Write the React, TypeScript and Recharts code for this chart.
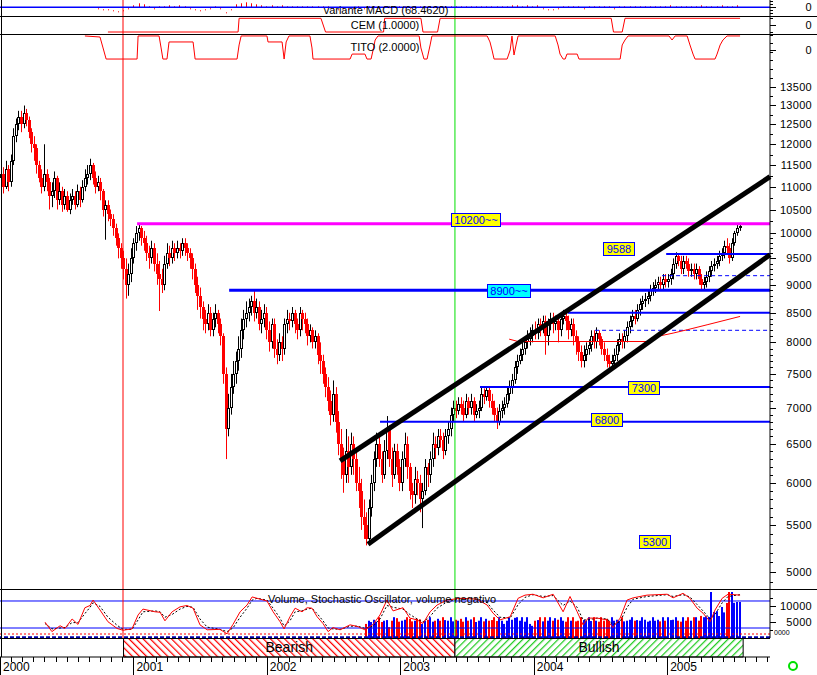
import { ComposedChart, LineChart, BarChart, Bar, Line, XAxis, YAxis, ReferenceLine, ReferenceDot, ReferenceArea } from 'recharts';

const FONT = '"Liberation Sans", Arial, sans-serif';
const X_MAX = 301.1; // weeks from 3 Jan 2000 to the right edge of the plot
const WEEKS_PER_MONTH = 4.348;

// weekly bars, Jan 2000 .. Jul 2005 (open = previous close)
const FIRST_OPEN = 11200;
const closes = [
  11300, 11000, 11400, 11100, 11600, 12200, 12500, 12700, 12500, 12800, 12600, 12300,
  12000, 11900, 11500, 11200, 11000, 11300, 11100, 10800, 10900, 11200, 10700, 10900,
  10600, 10800, 10500, 10700, 10800, 10600, 10900, 10700, 11000, 11200, 11300, 11500,
  11200, 11000, 11100, 10900, 10500, 10600, 10400, 10300, 10100, 9900, 9700, 9500,
  9300, 9000, 9200, 9500, 9800, 10000, 10100, 9900, 9800, 9600, 9500, 9700,
  9400, 9200, 9100, 9000, 9400, 9600, 9500, 9700, 9600, 9700, 9650, 9800,
  9700, 9600, 9500, 9300, 9000, 8800, 8600, 8400, 8300, 8500, 8200, 8400,
  8500, 8300, 8100, 7500, 6700, 7000, 7300, 7500, 7700, 7900, 8200, 8400,
  8500, 8600, 8700, 8500, 8600, 8300, 8400, 8500, 8200, 8000, 8300, 7900,
  7800, 8000, 7900, 8300, 8400, 8350, 8500, 8300, 8200, 8500, 8400, 8300,
  8100, 8200, 8000, 8100, 7800, 7700, 7500, 7300, 7100, 6900, 7200, 6800,
  6500, 6300, 6100, 6400, 6200, 6500, 6300, 6000, 5900, 5600, 5500, 5350,
  5700, 6000, 6300, 6500, 6300, 6100, 6400, 6700, 6300, 6100, 6400, 6200,
  6000, 6300, 6500, 6200, 5900, 5850, 6050, 6000, 5800, 5900, 6200, 6100,
  6300, 6500, 6450, 6600, 6550, 6400, 6600, 6700, 6900, 7000, 6950, 7050,
  7000, 6900, 7100, 7000, 7100, 6900, 6950, 7000, 7200, 7150, 7250, 7100,
  7000, 6900, 6800, 6950, 7000, 7050, 7200, 7300, 7400, 7600, 7700, 7800,
  7900, 8000, 8050, 8100, 8200, 8150, 8300, 8250, 8350, 8100, 8300, 8400,
  8300, 8350, 8200, 8400, 8450, 8350, 8200, 8300, 8100, 8000, 7850, 7700,
  7800, 7900, 7950, 8100, 8000, 8150, 8050, 7900, 7800, 7700, 7650, 7700,
  7800, 7950, 8050, 8000, 8100, 8250, 8350, 8450, 8400, 8550, 8650, 8700,
  8750, 8800, 8900, 8950, 9000, 9050, 9000, 9100, 9050, 9100, 9200, 9400,
  9550, 9450, 9300, 9450, 9400, 9250, 9300, 9200, 9300, 9100, 9000, 9050,
  9150, 9250, 9350, 9400, 9450, 9550, 9600, 9750, 9700, 9500, 9800, 10000,
  10100, 10150,
];
const highs = [
  11700, 11450, 11600, 11500, 11750, 12400, 12650, 12850, 12850, 12990, 12900, 12700,
  12400, 12200, 12000, 11600, 11400, 12000, 11400, 11200, 11100, 11350, 11250, 11100,
  11000, 10950, 10900, 10850, 10950, 10900, 11050, 11000, 11150, 11400, 11500, 11650,
  11550, 11350, 11250, 11200, 10950, 10700, 10700, 10500, 10400, 10200, 10000, 9800,
  9650, 9500, 9400, 9700, 9900, 10150, 10200, 10150, 10050, 9950, 9750, 9850,
  9800, 9600, 9450, 9300, 9550, 9800, 9750, 9850, 9800, 9850, 9800, 9900,
  9900, 9800, 9700, 9600, 9400, 9150, 8950, 8700, 8550, 8650, 8600, 8500,
  8650, 8550, 8400, 8150, 7600, 7200, 7500, 7700, 7850, 8100, 8400, 8550,
  8700, 8750, 8800, 8900, 8750, 8700, 8550, 8650, 8600, 8350, 8400, 8400,
  8050, 8150, 8100, 8400, 8550, 8500, 8600, 8550, 8400, 8600, 8550, 8500,
  8400, 8300, 8250, 8200, 8150, 8000, 7800, 7600, 7450, 7250, 7400, 7300,
  6950, 6700, 6450, 6700, 6600, 6650, 6600, 6400, 6200, 6050, 5800, 5650,
  5800, 6100, 6400, 6650, 6600, 6400, 6550, 6880, 6750, 6450, 6500, 6500,
  6300, 6400, 6650, 6600, 6250, 6000, 6200, 6150, 6100, 6000, 6300, 6250,
  6400, 6650, 6600, 6700, 6700, 6650, 6700, 6800, 7000, 7100, 7100, 7150,
  7150, 7100, 7200, 7150, 7200, 7150, 7050, 7100, 7300, 7280, 7300, 7300,
  7200, 7100, 7000, 7050, 7100, 7150, 7300, 7400, 7500, 7700, 7800, 7900,
  8000, 8100, 8200, 8250, 8300, 8350, 8400, 8400, 8450, 8450, 8400, 8500,
  8500, 8450, 8400, 8500, 8550, 8500, 8450, 8400, 8400, 8200, 8100, 7950,
  7950, 8000, 8050, 8200, 8200, 8250, 8200, 8100, 8000, 7900, 7800, 7800,
  7900, 8050, 8150, 8150, 8200, 8350, 8450, 8550, 8550, 8650, 8750, 8800,
  8850, 8900, 9000, 9050, 9100, 9150, 9150, 9200, 9200, 9200, 9300, 9500,
  9620, 9600, 9550, 9550, 9550, 9500, 9400, 9400, 9400, 9350, 9200, 9150,
  9250, 9350, 9450, 9500, 9550, 9650, 9700, 9850, 9900, 9800, 9900, 10050,
  10200, 10220,
];
const lows = [
  10900, 10850, 10950, 10900, 11000, 11500, 12050, 12350, 12300, 12400, 12450, 12150,
  11800, 11600, 11300, 11100, 10850, 10900, 10900, 10500, 10550, 10750, 10500, 10600,
  10450, 10500, 10450, 10400, 10600, 10500, 10550, 10550, 10650, 10900, 11050, 11150,
  11050, 10850, 10900, 10700, 10350, 9870, 10250, 10150, 9950, 9750, 9500, 9300,
  9100, 8750, 8800, 9050, 9400, 9650, 9850, 9750, 9650, 9450, 9300, 9400,
  9250, 9000, 8530, 8850, 8900, 9300, 9350, 9400, 9450, 9500, 9500, 9550,
  9550, 9450, 9300, 9100, 8850, 8550, 8400, 8200, 8150, 8200, 8100, 8100,
  8250, 8150, 7950, 7350, 6300, 6600, 6900, 7200, 7350, 7550, 7750, 8050,
  8250, 8350, 8450, 8350, 8400, 8200, 8150, 8250, 8050, 7850, 7900, 7750,
  7650, 7700, 7700, 7800, 8150, 8200, 8250, 8150, 8050, 8100, 8200, 8150,
  7950, 8000, 7900, 7900, 7650, 7500, 7350, 7150, 6950, 6750, 6800, 6650,
  6350, 6050, 5880, 6000, 6000, 6100, 6100, 5900, 5700, 5450, 5350, 5280,
  5300, 5600, 5900, 6200, 6200, 6000, 6050, 6300, 6200, 5950, 6050, 6100,
  5900, 5900, 6200, 6050, 5800, 5700, 5750, 5850, 5650, 5470, 5850, 5950,
  6000, 6200, 6300, 6350, 6450, 6300, 6350, 6500, 6600, 6800, 6850, 6900,
  6900, 6800, 6850, 6900, 6900, 6800, 6850, 6850, 6950, 7050, 7100, 7000,
  6900, 6800, 6700, 6750, 6850, 6900, 7000, 7100, 7200, 7350, 7500, 7650,
  7700, 7800, 7900, 7950, 8000, 8050, 8050, 8100, 8150, 7800, 7950, 8200,
  8150, 8200, 8000, 8100, 8300, 8200, 8050, 8100, 7950, 7800, 7700, 7600,
  7600, 7700, 7800, 7850, 7900, 7900, 7950, 7800, 7700, 7600, 7550, 7550,
  7600, 7700, 7850, 7900, 7900, 8000, 8150, 8250, 8300, 8350, 8450, 8550,
  8600, 8650, 8700, 8800, 8850, 8900, 8900, 8900, 8950, 8950, 9000, 9100,
  9300, 9350, 9200, 9200, 9300, 9150, 9150, 9100, 9100, 9000, 8900, 8920,
  8950, 9050, 9150, 9250, 9300, 9350, 9450, 9500, 9600, 9400, 9450, 9750,
  9950, 10050,
];

// weekly volume, from week 143 on
const VOL_FIRST = 143;
const volumes = [
  4400, 5400, 5000, 5700, 5100, 6500, 5000, 5400, 5600, 3400, 5400, 6500, 6200, 5100, 5400, 5700,
  6500, 6000, 5200, 5400, 6000, 5800, 4400, 5400, 5700, 6500, 5100, 5400, 6000, 5400, 6500, 5600,
  5400, 6500, 5200, 5700, 5400, 6000, 5100, 6500, 5400, 5800, 6500, 5000, 5400, 6500, 5200, 6000,
  5400, 5600, 6500, 5300, 6500, 5400, 4400, 5400, 6500, 5700, 6300, 6500, 5400, 6500, 5100, 6500,
  4400, 3800, 5400, 5600, 6500, 5200, 6500, 5400, 6500, 5400, 6200, 5700, 6500, 5400, 5100, 6500,
  5400, 6500, 5200, 5400, 6500, 5600, 5400, 6500, 5300, 6500, 5400, 5100, 6500, 5400, 6000, 5400,
  6500, 5400, 5700, 5400, 6500, 5200, 5400, 5700, 6500, 5400, 5600, 5400, 6500, 5700, 5100, 5400,
  6500, 5400, 5700, 5200, 6500, 5400, 6500, 5600, 5700, 6500, 5400, 5100, 6500, 5400, 6500, 5400,
  6500, 6500, 5400, 6900, 6500, 6800,
  6560, 14375, 8125, 8400, 6875, 9690, 8000, 10940, 14375, 14375, 11000, 11250, 11250,
];

// stochastic oscillator (%K solid red, %D dashed black)
const stochWeeks = [
  17.6, 20.3, 23.5, 25.4, 28.2, 30.5, 33.2, 35.2, 36.4, 39.1, 42.2, 45.8, 48.1, 51.6, 54.0, 55.9,
  60.6, 62.6, 64.5, 67.3, 70.4, 73.1, 75.5, 78.2, 81.0, 86.0, 88.8, 91.1, 93.9, 96.6, 98.6, 100.5,
  104.4, 106.8, 109.5, 111.1, 113.4, 115.4, 118.1, 120.1, 122.0, 124.0, 126.3, 128.3, 130.2, 133.0,
  136.9, 140.0, 142.7, 145.9, 148.6, 151.3, 153.7, 157.6, 160.3, 163.1, 165.4, 168.2, 170.9, 174.8,
  179.9, 186.5, 190.5, 192.8, 195.5, 199.5, 202.6, 205.3, 208.4, 212.4, 216.3, 220.2, 222.9, 225.7,
  228.0, 230.0, 233.5, 237.4, 239.7, 242.5, 245.2, 247.6, 253.0, 260.9, 263.2, 267.1, 269.8, 272.6,
  274.9, 277.7, 279.6, 282.4, 284.7, 289.4,
];
const stochK = [
  33, 12, 25, 19, 40, 28, 65, 70, 82, 60, 34, 19, 15, 18, 49, 62, 56, 55, 36, 56, 67, 70, 64, 27,
  16, 17, 7, 28, 56, 71, 89, 86, 80, 56, 34, 18, 45, 64, 56, 65, 64, 45, 30, 12, 21, 16, 27, 23,
  16, 28, 49, 82, 58, 65, 42, 38, 30, 56, 71, 82, 86, 84, 71, 53, 38, 45, 86, 93, 95, 87, 95, 56,
  90, 56, 27, 42, 42, 38, 21, 42, 82, 87, 93, 95, 87, 97, 86, 64, 53, 34, 60, 86, 95, 93,
];
const stochD = [
  30, 18, 20, 21, 32, 32, 52, 66, 76, 68, 44, 26, 17, 17, 38, 56, 58, 56, 44, 50, 62, 68, 66, 40,
  22, 17, 12, 20, 44, 64, 82, 86, 82, 64, 42, 24, 36, 56, 58, 62, 64, 52, 36, 20, 18, 17, 24, 24,
  19, 24, 40, 70, 66, 62, 50, 40, 33, 46, 64, 78, 85, 85, 76, 60, 44, 42, 72, 88, 94, 90, 92, 70,
  80, 66, 38, 38, 42, 40, 28, 34, 66, 84, 90, 94, 90, 94, 89, 72, 58, 40, 50, 76, 90, 94,
];

// MACD histogram, every second week from week 38
const MACD_FIRST = 38;
const macdHist = [
  -1, -2, -2, -3, -4, -3, -1, 2, 4, 3, 1, -1, 1, 1, 2, 1, 2, 1, -1, -2, -3,
  -2, -1, 1, -1, -5, -2, 3, 4, 5, 4, 3, 2, 1, 2, 1, 2, 1, 1, 1, 1,
  1, 1, 1, 1, 1, -1, -2, -1, -2, -1, 1, -1, 1, 1, -1, 1, 1, 1, 1,
  1, -1, 1, 1, 1, 1, 1, 1, 1, 1, 1, 1, 1, 1, 1, 1, 1, 1, 1, 1,
  1, 2, 2, 1, 2, 1, 2, -1, -2, -2, -1, 1, 1, 1, 1, -1, 1, 1, 1, 1,
  1, -1, 1, 1, 1, 1, 1, 1, 1, 1, 1, 1, 2, 1, 1, 1, 1, 1, 2, 1,
  1, 1, 2, 1, 1, 2,
];

// CEM and TITO step indicators
const cemWeeks = [42.2, 93.1, 93.5, 125.5, 127.3, 150.0, 150.4, 164.6, 165.4, 171.1, 172.1, 239.0, 239.9, 243.3, 244.4, 289.4];
const cemValues = [0, 0, 1, 1, 0, 0, 1, 1, 0, 0, 1, 1, 0, 0, 1, 1];
const titoWeeks = [
  33.2, 39.1, 40.3, 41.5, 53.6, 54.0, 62.2, 63.0, 63.7, 65.3, 66.1, 75.5, 76.3, 92.7, 93.5, 94.3,
  104.4, 104.8, 110.3, 111.1, 111.9, 113.0, 121.2, 122.0, 122.4, 136.9, 137.7, 142.7, 143.5, 145.1,
  145.9, 146.7, 147.8, 163.9, 164.6, 165.8, 167.0, 168.2, 168.9, 190.5, 191.6, 192.4, 193.2, 198.3,
  199.5, 200.2, 201.0, 201.8, 202.6, 217.1, 218.2, 219.0, 220.2, 221.0, 221.7, 225.7, 226.4, 242.5,
  243.3, 244.4, 245.6, 261.6, 262.8, 264.0, 268.7, 269.8, 271.0, 271.8, 279.6, 280.4, 281.6, 282.7,
  284.3, 289.4,
];
const titoValues = [
  2, 1.91, 0.96, 0, 0, 2, 2, 0.96, 0, 0, 1.48, 1.48, 0, 0, 1.22, 2,
  2, 1.48, 1.48, 0, 1.48, 2, 2, 0.96, 0, 0, 0.43, 0.43, 0, 0,
  0.78, 1.65, 2, 2, 0.96, 0, 0, 1.22, 2, 2, 1.48, 0.78, 0, 0,
  0.78, 2, 0.35, 1.22, 2, 2, 1.22, 0.43, 0, 0, 0.43, 0.43, 0, 0,
  1.22, 1.65, 2, 2, 1.65, 2, 2, 1.22, 0.43, 0, 0, 0.43, 1.22, 1.65,
  2, 2,
];

// moving average on the price panel
const maWeeks = [199.1, 202.6, 253.0, 256.9, 263.2, 268.7, 276.5, 289.4];
const maValues = [8053, 8014, 8014, 8096, 8153, 8209, 8293, 8436];

// support / resistance levels
const levelPrices = [10200, 8900, 9588, 9170, 8500, 8200, 7300, 6800];
const levelStarts = [53.6, 89.6, 260.5, 258.9, 222.1, 232.7, 187.7, 148.6];
const levelColors = ['#ff00ff', '#0000ff', '#0000ff', '#0000ff', '#0000ff', '#0000ff', '#0000ff', '#0000ff'];
const levelWidths = [3, 3, 2, 1, 2, 1, 2, 2];
const levelDashes = ['', '', '', '4 3', '', '4 3', '', ''];

const labelTexts = ['10200~~', '8900~~', '9588', '7300', '6800', '5300'];
const labelWeeks = [185.8, 198.9, 241.7, 251.7, 237.2, 256.0];
const labelPrices = [10285, 8900, 9700, 7300, 6830, 5327];
const labelFills = ['#ffff00', '#00ffff', '#ffff00', '#ffff00', '#ffff00', '#ffff00'];

// trend channel
const channelUpper = [{ w: 133.0, p: 6277 }, { w: X_MAX, p: 11230 }];
const channelLower = [{ w: 143.9, p: 5292 }, { w: X_MAX, p: 9571 }];

const SIGNAL_RED = 48.1;
const SIGNAL_GREEN = 177.9;
const bandNames = ['Bearish', 'Bullish'];
const bandStarts = [48.3, 177.9];
const bandEnds = [177.9, 290.6];

const priceLabels = [5000, 5500, 6000, 6500, 7000, 7500, 8000, 8500, 9000, 9500, 10000, 10500, 11000, 11500, 12000, 12500, 13000, 13500];
const yearLabels = ['2000', '2001', '2002', '2003', '2004', '2005'];

const priceTicks: number[] = [];
for (let v = 4900; v <= 15000; v += v < 10000 ? 100 : 250) priceTicks.push(v);
const monthWeeks: number[] = [];
for (let m = 0; m * WEEKS_PER_MONTH <= X_MAX; m++) monthWeeks.push(m * WEEKS_PER_MONTH);

const candles = closes.map((c, i) => ({
  w: i + 0.4,
  open: i === 0 ? FIRST_OPEN : closes[i - 1],
  high: highs[i],
  low: lows[i],
  close: c,
  range: [lows[i], highs[i]],
}));
const volData = volumes.map((v, k) => {
  const c = candles[VOL_FIRST + k];
  return { w: c.w, vol: v, up: c.close >= c.open };
});
const kData = stochWeeks.map((w, i) => ({ w, k: stochK[i] }));
const dData = stochWeeks.map((w, i) => ({ w, d: stochD[i] }));
const macdData = macdHist.map((v, k) => ({ w: MACD_FIRST + 2 * k + 0.4, h: v }));
const cemData = cemWeeks.map((w, i) => ({ w, v: cemValues[i] }));
const titoData = titoWeeks.map((w, i) => ({ w, v: titoValues[i] }));
const maData = maWeeks.map((w, i) => ({ w, ma: maValues[i] }));
const bandAxisData = [{ w: 0, b: 0 }, { w: X_MAX, b: 1 }];

const crisp = (v: number) => Math.round(v) + 0.5;

function rightTick(labelled: number[], text?: string) {
  return (p: any) => {
    const v = p.payload.value;
    const major = labelled.includes(v);
    const y = crisp(p.y);
    return (
      <g>
        <line x1={p.x} x2={p.x + (major ? 6 : 3)} y1={y} y2={y} stroke="#000" />
        {major && (
          <text x={p.x + 42} y={p.y + 4} textAnchor="end" fontSize={11} fontFamily={FONT} letterSpacing={0.3} fill="#000">
            {text ?? v}
          </text>
        )}
      </g>
    );
  };
}

function Candle(props: any) {
  const { x, y, width, height } = props;
  const d = props.payload ?? props;
  if (!height || !isFinite(y)) return null;
  const cx = Math.floor(x + width / 2);
  const lh = Math.log(d.high);
  const ll = Math.log(d.low);
  const toY = (v: number) => y + (height * (lh - Math.log(v))) / (lh - ll);
  const yo = toY(d.open);
  const yc = toY(d.close);
  const top = Math.round(Math.min(yo, yc));
  const bot = Math.round(Math.max(yo, yc));
  const up = d.close >= d.open;
  return (
    <g>
      <line x1={cx + 0.5} x2={cx + 0.5} y1={y} y2={y + height} stroke={up ? '#000' : '#ff0000'} />
      {up ? (
        <rect x={cx - 0.5} y={top + 0.5} width={2} height={Math.max(bot - top - 1, 1)} fill="#fff" stroke="#000" />
      ) : (
        <rect x={cx - 1} y={top} width={3} height={Math.max(bot - top, 1)} fill="#ff0000" />
      )}
    </g>
  );
}

function VolBar(props: any) {
  const { x, y, width, height } = props;
  const d = props.payload ?? props;
  const cx = Math.floor(x + width / 2);
  return <rect x={cx - 1} y={y} width={2} height={height} fill={d.up ? '#0000ff' : '#ff0000'} />;
}

function MacdBar(props: any) {
  const { x, y, width, height } = props;
  return <rect x={Math.floor(x + width / 2)} y={y} width={1} height={Math.max(height, 1)} fill="#ff0000" />;
}

const levelLabel = (text: string, fill: string) => (p: any) => {
  const w = Math.round(text.length * 6.2 + 6);
  const h = 13;
  const x = Math.round(p.cx - w / 2) + 0.5;
  const y = Math.round(p.cy - h / 2) + 0.5;
  return (
    <g>
      <rect x={x} y={y} width={w} height={h} fill={fill} stroke="#0000ff" />
      <text x={x + w / 2} y={y + 10.5} textAnchor="middle" fontSize={11} fontFamily={FONT} fill="#0000ff">
        {text}
      </text>
    </g>
  );
};

const timeTick = (p: any) => {
  const m = Math.round(p.payload.value / WEEKS_PER_MONTH);
  const isYear = m % 12 === 0;
  const x = crisp(p.x);
  return (
    <g>
      <line x1={x} x2={x} y1={p.y} y2={p.y + (isYear ? 18 : 5)} stroke="#000" />
      {isYear && (
        <text x={p.x + 3} y={p.y + 14} fontSize={12} fontFamily={FONT} fill="#000">
          {yearLabels[m / 12]}
        </text>
      )}
    </g>
  );
};

const markers = (axisId: string) => [
  <ReferenceLine key="r" yAxisId={axisId} x={SIGNAL_RED} stroke="#ff0000" ifOverflow="visible" />,
  <ReferenceLine key="g" yAxisId={axisId} x={SIGNAL_GREEN} stroke="#00e000" ifOverflow="visible" />,
];

const xAxisHidden = <XAxis dataKey="w" type="number" domain={[0, X_MAX]} hide allowDataOverflow />;

export default function App() {
  return (
    <div style={{ position: 'fixed', left: 0, top: 0, width: 817, height: 675, background: '#fff', overflow: 'hidden' }}>
      {/* price panel */}
      <div style={{ position: 'absolute', left: 0, top: 34 }}>
        <ComposedChart width={817} height={555} data={candles} margin={{ top: 0, right: 0, bottom: 0, left: 0 }}>
          {xAxisHidden}
          <YAxis yAxisId="p" orientation="right" scale="log" type="number" domain={[4829, 15038]} allowDataOverflow
            ticks={priceTicks} interval={0} tick={rightTick(priceLabels)} tickLine={false} tickSize={0} tickMargin={0}
            axisLine={{ stroke: '#000' }} width={47} />
          {markers('p')}
          {levelPrices.map((v, i) => (
            <ReferenceLine key={'l' + i} yAxisId="p" ifOverflow="visible" stroke={levelColors[i]} strokeWidth={levelWidths[i]}
              strokeDasharray={levelDashes[i] || undefined}
              segment={[{ x: levelStarts[i], y: v }, { x: X_MAX, y: v }]} />
          ))}
          <Bar yAxisId="p" dataKey="range" shape={Candle} barSize={3} isAnimationActive={false} />
          <Line yAxisId="p" data={maData} dataKey="ma" stroke="#ff0000" strokeWidth={1} dot={false} isAnimationActive={false} />
          <ReferenceLine yAxisId="p" ifOverflow="visible" stroke="#000" strokeWidth={5}
            segment={[{ x: channelUpper[0].w, y: channelUpper[0].p }, { x: channelUpper[1].w, y: channelUpper[1].p }]} />
          <ReferenceLine yAxisId="p" ifOverflow="visible" stroke="#000" strokeWidth={5}
            segment={[{ x: channelLower[0].w, y: channelLower[0].p }, { x: channelLower[1].w, y: channelLower[1].p }]} />
          {labelTexts.map((t, i) => (
            <ReferenceDot key={'t' + i} yAxisId="p" x={labelWeeks[i]} y={labelPrices[i]} r={0} ifOverflow="visible"
              shape={levelLabel(t, labelFills[i])} />
          ))}
        </ComposedChart>
      </div>

      {/* TITO */}
      <div style={{ position: 'absolute', left: 0, top: 34 }}>
        <LineChart width={817} height={30} data={titoData} margin={{ top: 0, right: 0, bottom: 0, left: 0 }}>
          {xAxisHidden}
          <YAxis yAxisId="t" orientation="right" type="number" domain={[-0.43, 2.17]} ticks={[0.78]} interval={0}
            tick={rightTick([0.78], '0')} tickLine={false} tickSize={0} tickMargin={0} axisLine={false} width={47} />
          <Line yAxisId="t" dataKey="v" stroke="#ff0000" strokeWidth={1} dot={false} isAnimationActive={false} />
        </LineChart>
      </div>

      {/* CEM */}
      <div style={{ position: 'absolute', left: 0, top: 16 }}>
        <LineChart width={817} height={18} data={cemData} margin={{ top: 0, right: 0, bottom: 0, left: 0 }}>
          {xAxisHidden}
          <YAxis yAxisId="c" orientation="right" type="number" domain={[-0.146, 1.168]} ticks={[0, 0.5, 1]} interval={0}
            tick={rightTick([0.5], '0')} tickLine={false} tickSize={0} tickMargin={0} axisLine={{ stroke: '#000' }} width={47} />
          {markers('c')}
          <Line yAxisId="c" dataKey="v" stroke="#ff0000" strokeWidth={1} dot={false} isAnimationActive={false} />
        </LineChart>
      </div>

      {/* MACD */}
      <div style={{ position: 'absolute', left: 0, top: 0 }}>
        <BarChart width={817} height={16} data={macdData} margin={{ top: 0, right: 0, bottom: 0, left: 0 }}>
          {xAxisHidden}
          <YAxis yAxisId="m" orientation="right" type="number" domain={[-8.7, 7.3]} ticks={[-6, -3, 0, 3, 6]} interval={0}
            tick={rightTick([0], '0')} tickLine={false} tickSize={0} tickMargin={0} axisLine={{ stroke: '#000' }} width={47} />
          {markers('m')}
          <ReferenceLine yAxisId="m" y={0} stroke="#0000ff" strokeWidth={1.5} />
          <Bar yAxisId="m" dataKey="h" shape={MacdBar} barSize={1} isAnimationActive={false} />
        </BarChart>
      </div>

      {/* volume + stochastic */}
      <div style={{ position: 'absolute', left: 0, top: 590 }}>
        <ComposedChart width={817} height={48} data={volData} margin={{ top: 0, right: 0, bottom: 0, left: 0 }}>
          {xAxisHidden}
          <YAxis yAxisId="s" hide type="number" domain={[-2.2, 104.4]} allowDataOverflow />
          <YAxis yAxisId="v" orientation="right" type="number" domain={[0, 15000]} ticks={[2500, 5000, 7500, 10000, 12500]}
            interval={0} tick={rightTick([5000, 10000])} tickLine={false} tickSize={0} tickMargin={0}
            axisLine={{ stroke: '#000' }} width={47} />
          <ReferenceLine yAxisId="s" y={80} stroke="#0000ff" />
          <ReferenceLine yAxisId="s" y={20} stroke="#0000ff" />
          {markers('s')}
          <Bar yAxisId="v" dataKey="vol" shape={VolBar} barSize={2} isAnimationActive={false} />
          <ReferenceLine yAxisId="v" y={1250} stroke="#ff0000" strokeDasharray="2 2" />
          <ReferenceLine yAxisId="v" y={200} stroke="#0000aa" strokeWidth={2} strokeDasharray="4 2" />
          <Line yAxisId="s" data={dData} dataKey="d" stroke="#000" strokeWidth={1} strokeDasharray="2 2" dot={false} isAnimationActive={false} />
          <Line yAxisId="s" data={kData} dataKey="k" stroke="#ff0000" strokeWidth={1} dot={false} isAnimationActive={false} />
        </ComposedChart>
      </div>

      {/* bearish / bullish band and time axis */}
      <div style={{ position: 'absolute', left: 0, top: 638 }}>
        <ComposedChart width={817} height={37} data={bandAxisData} margin={{ top: 0, right: 47, bottom: 0, left: 0 }}>
          <defs>
            <pattern id="bearHatch" patternUnits="userSpaceOnUse" width="5" height="5" patternTransform="rotate(-45)">
              <rect width="5" height="5" fill="#fff" />
              <line x1="0.6" y1="0" x2="0.6" y2="5" stroke="#ff0000" strokeWidth="1.3" />
            </pattern>
            <pattern id="bullHatch" patternUnits="userSpaceOnUse" width="5" height="5" patternTransform="rotate(45)">
              <rect width="5" height="5" fill="#fff" />
              <line x1="0.6" y1="0" x2="0.6" y2="5" stroke="#22cc22" strokeWidth="1.3" />
            </pattern>
          </defs>
          <XAxis dataKey="w" type="number" domain={[0, X_MAX]} ticks={monthWeeks} interval={0} tick={timeTick}
            tickLine={false} tickSize={0} tickMargin={0} height={18} axisLine={{ stroke: '#000' }} allowDataOverflow />
          <YAxis yAxisId="b" type="number" domain={[0, 1]} width={0} tick={false} axisLine={false} tickLine={false} />
          <Line yAxisId="b" dataKey="b" stroke="none" dot={false} isAnimationActive={false} />
          {bandNames.map((name, i) => (
            <ReferenceArea key={name} yAxisId="b" x1={bandStarts[i]} x2={bandEnds[i]} y1={0} y2={1} ifOverflow="visible"
              fill={i === 0 ? 'url(#bearHatch)' : 'url(#bullHatch)'} fillOpacity={1} stroke="#000"
              label={{ value: name, position: 'center', fontSize: 14, fill: '#000', fontFamily: FONT }} />
          ))}
        </ComposedChart>
      </div>

      {/* frame and panel titles */}
      <svg width={817} height={675} style={{ position: 'absolute', left: 0, top: 0, pointerEvents: 'none' }}>
        <line x1={0} x2={817} y1={16.5} y2={16.5} stroke="#000" />
        <line x1={0} x2={817} y1={34.5} y2={34.5} stroke="#000" />
        <line x1={0} x2={817} y1={589.5} y2={589.5} stroke="#000" />
        <line x1={0} x2={770} y1={638.5} y2={638.5} stroke="#000" />
        <line x1={1.5} x2={1.5} y1={0} y2={657} stroke="#000" />
        <g fontFamily={FONT} fontSize={11} fill="#000" textAnchor="middle">
          <text x={386} y={14}>variante MACD (68.4620)</text>
          <text x={385} y={29}>CEM (1.0000)</text>
          <text x={385} y={51}>TITO (2.0000)</text>
        </g>
        <text x={268} y={603} fontFamily={FONT} fontSize={11} fill="#000">Volume, Stochastic Oscillator, volume negativo</text>
        <text x={774} y={635} fontFamily={FONT} fontSize={7} fill="#000">0000</text>
        <circle cx={793} cy={666} r={4} fill="none" stroke="#00e000" strokeWidth={2} />
      </svg>
    </div>
  );
}
